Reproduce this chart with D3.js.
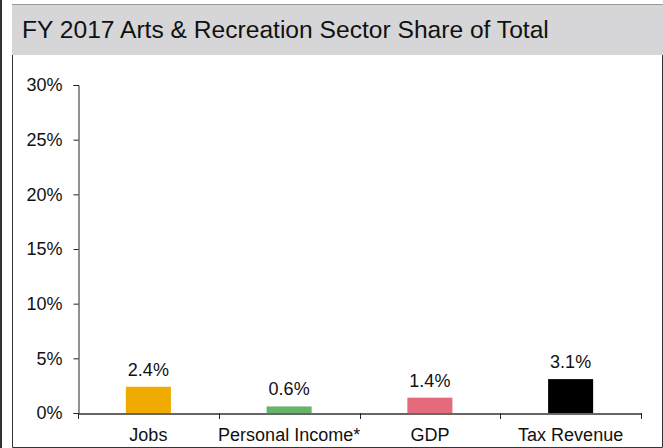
<!DOCTYPE html>
<html>
<head>
<meta charset="utf-8">
<script src="https://cdn.jsdelivr.net/npm/d3@7"></script>
<style>
  html, body { margin: 0; padding: 0; background: #fff; }
  svg { display: block; font-family: "Liberation Sans", Arial, sans-serif; }
</style>
</head>
<body>
<svg id="chart" width="663" height="448"></svg>
<script>
const title = "FY 2017 Arts & Recreation Sector Share of Total";
const categories = ["Jobs", "Personal Income*", "GDP", "Tax Revenue"];
const values = [2.4, 0.6, 1.4, 3.1];
const valueLabels = ["2.4%", "0.6%", "1.4%", "3.1%"];
const barColors = ["#F0AB00", "#66B36A", "#E46A7C", "#000000"];
const yTicks = [0, 5, 10, 15, 20, 25, 30];

const svg = d3.select("#chart");
const W = 663, H = 448;

// outer left rule
svg.append("line").attr("x1", 1).attr("x2", 1).attr("y1", 0).attr("y2", H)
  .attr("stroke", "#333").attr("stroke-width", 2);

// header
svg.append("rect").attr("x", 12).attr("y", 4).attr("width", W - 12).attr("height", 51)
  .attr("fill", "#d6d6d8");
svg.append("line").attr("x1", 12).attr("x2", W).attr("y1", 4.5).attr("y2", 4.5)
  .attr("stroke", "#9a9a9a").attr("stroke-width", 1);
svg.append("text").attr("x", 22).attr("y", 38).attr("font-size", 24.6)
  .attr("fill", "#111").text(title);

// box below header
svg.append("path").attr("d", `M12.5,55 V447.5 H662.5 V55`)
  .attr("fill", "none").attr("stroke", "#333").attr("stroke-width", 1);

const m = { left: 78, right: 641, top: 85, bottom: 413 };
const x = d3.scaleBand().domain(categories).range([m.left, m.right]).padding(0);
const y = d3.scaleLinear().domain([0, 30]).range([m.bottom, m.top]);

// y axis
const yAxis = svg.append("g").attr("transform", `translate(${m.left + 0.5},0)`)
  .call(d3.axisLeft(y).tickValues(yTicks).tickFormat(d => d + "%").tickSizeOuter(0).tickSize(5).tickPadding(11));
yAxis.selectAll("path, line").attr("stroke", "#222");
yAxis.selectAll("text").attr("font-size", 18).attr("fill", "#111").attr("font-family", "Liberation Sans, Arial, sans-serif");

// x axis
const xAxis = svg.append("g").attr("transform", `translate(0,${m.bottom + 0.5})`)
  .call(d3.axisBottom(x).tickSize(0).tickSizeOuter(0).tickPadding(15));
xAxis.select("path").attr("stroke", "#333").attr("stroke-width", 1.5);
xAxis.selectAll("text").attr("font-size", 18).attr("fill", "#111").attr("font-family", "Liberation Sans, Arial, sans-serif");
// boundary ticks
const bounds = categories.map(c => x(c)).concat([x(categories[categories.length - 1]) + x.bandwidth()]);
svg.append("g").selectAll("line").data(bounds).join("line")
  .attr("x1", d => Math.round(d) + 0.5).attr("x2", d => Math.round(d) + 0.5)
  .attr("y1", m.bottom).attr("y2", m.bottom + 6)
  .attr("stroke", "#222");

// bars
const bw = x.bandwidth() * 0.32;
const data = categories.map((c, i) => ({ c, v: values[i], label: valueLabels[i], color: barColors[i] }));
svg.append("g").selectAll("rect").data(data).join("rect")
  .attr("x", d => x(d.c) + x.bandwidth() / 2 - bw / 2)
  .attr("width", bw)
  .attr("y", d => y(d.v))
  .attr("height", d => y(0) - y(d.v))
  .attr("fill", d => d.color);

svg.append("g").selectAll("text").data(data).join("text")
  .attr("x", d => x(d.c) + x.bandwidth() / 2)
  .attr("y", d => y(d.v) - 11)
  .attr("text-anchor", "middle")
  .attr("font-size", 18).attr("fill", "#111")
  .text(d => d.label);
</script>
</body>
</html>
